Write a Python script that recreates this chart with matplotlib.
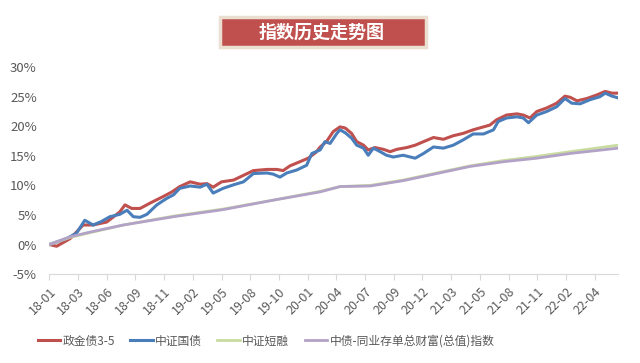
import matplotlib
matplotlib.use("Agg")
import matplotlib.pyplot as plt
from matplotlib.patches import Rectangle

plt.rcParams['font.family'] = ['Noto Sans CJK SC', 'DejaVu Sans']

# trading-day index since 2018-01 and cumulative return (%)
labels = ['18-01', '18-03', '18-06', '18-09', '18-11', '19-02', '19-05', '19-08', '19-10', '20-01',
          '20-04', '20-07', '20-09', '20-12', '21-03', '21-05', '21-08', '21-11', '22-02', '22-04']
label_step = 55

red_x = [0, 14, 40, 65, 84, 110, 135, 145, 158, 174, 193, 218, 235, 250, 270, 289, 302, 314, 330, 353,
         372, 391, 417, 436, 448, 461, 480, 496, 511, 519, 531, 544, 557, 567, 579, 589, 602, 611, 624,
         640, 653, 666, 685, 701, 717, 736, 755, 774, 793, 812, 832, 844, 857, 876, 896, 908, 921, 934,
         953, 972, 988, 998, 1011, 1030, 1049, 1065, 1078, 1090]
red_y = [0.0, -0.3, 1.0, 3.3, 3.3, 3.8, 5.5, 6.7, 6.1, 6.1, 7.0, 8.1, 8.9, 9.8, 10.6, 10.2, 10.3, 9.7, 10.6, 10.9,
         11.7, 12.5, 12.7, 12.7, 12.5, 13.3, 14.0, 14.6, 15.6, 16.5, 17.4, 19.1, 19.9, 19.7, 18.8, 17.4, 16.8, 16.0, 16.4,
         16.1, 15.7, 16.1, 16.4, 16.8, 17.4, 18.1, 17.8, 18.4, 18.8, 19.4, 19.9, 20.2, 21.1, 21.9, 22.1, 21.9, 21.4, 22.5,
         23.1, 23.9, 25.1, 24.9, 24.3, 24.7, 25.3, 25.9, 25.6, 25.6]

blue_x = [0, 33, 52, 68, 84, 100, 116, 135, 149, 161, 174, 187, 206, 225, 238, 250, 270, 289, 302, 314,
          333, 353, 372, 391, 417, 429, 442, 455, 474, 493, 503, 519, 528, 538, 551, 557, 567, 579, 589,
          602, 611, 621, 634, 646, 659, 678, 701, 717, 736, 755, 774, 793, 812, 832, 851, 860, 876, 896,
          908, 918, 934, 953, 972, 988, 1001, 1017, 1036, 1055, 1065, 1078, 1090]
blue_y = [0.0, 1.0, 1.9, 4.1, 3.3, 3.9, 4.7, 5.1, 5.8, 4.7, 4.6, 5.1, 6.7, 7.8, 8.4, 9.5, 9.9, 9.7, 10.2, 8.7,
          9.5, 10.1, 10.6, 12.0, 12.1, 11.9, 11.4, 12.1, 12.6, 13.4, 15.4, 16.0, 17.4, 17.1, 18.8, 19.4, 18.9, 18.0, 16.8,
          16.3, 15.1, 16.3, 15.7, 15.1, 14.8, 15.1, 14.6, 15.4, 16.5, 16.3, 16.8, 17.7, 18.7, 18.7, 19.4, 20.8, 21.4, 21.6,
          21.4, 20.6, 21.9, 22.5, 23.3, 24.7, 23.9, 23.8, 24.5, 25.0, 25.6, 25.1, 24.8]

green_x = [0, 40, 78, 142, 238, 333, 429, 519, 557, 615, 678, 742, 806, 870, 934, 998, 1090]
green_y = [0.0, 1.2, 2.0, 3.3, 4.8, 6.0, 7.5, 9.0, 9.8, 10.0, 10.9, 12.1, 13.3, 14.2, 14.9, 15.7, 16.8]

purple_x = [0, 40, 78, 142, 238, 333, 429, 519, 557, 615, 678, 742, 806, 870, 934, 998, 1090]
purple_y = [0.0, 1.3, 2.1, 3.3, 4.7, 5.9, 7.5, 8.9, 9.8, 9.9, 10.8, 12.0, 13.2, 14.0, 14.6, 15.4, 16.3]

names = ['政金债3-5', '中证国债', '中证短融', '中债-同业存单总财富(总值)指数']
colors = ['#C0504D', '#4A7EBB', '#C9DC9F', '#B3A2C7']

fig = plt.figure(figsize=(6.4, 3.63), dpi=100)
ax = fig.add_axes([0.077, 0.245, 0.889, 0.570])

ax.plot(red_x, red_y, color=colors[0], lw=2.2, label=names[0])
ax.plot(blue_x, blue_y, color=colors[1], lw=2.2, label=names[1])
ax.plot(green_x, green_y, color=colors[2], lw=2.0, label=names[2])
ax.plot(purple_x, purple_y, color=colors[3], lw=2.0, label=names[3])

ax.set_xlim(0, 1090)
ax.set_ylim(-5, 30)
ax.set_yticks(range(-5, 31, 5))
ax.set_yticklabels([f'{v}%' for v in range(-5, 31, 5)])
ax.set_xticks([i * label_step for i in range(len(labels))])
ax.set_xticklabels(labels, rotation=45, ha='right', va='top', rotation_mode='anchor')

for s in ['top', 'right', 'left']:
    ax.spines[s].set_visible(False)
ax.spines['bottom'].set_color('#D9D9D9')
ax.tick_params(axis='y', length=0, pad=9, labelsize=9.5, labelcolor='#595959')
ax.tick_params(axis='x', length=4, color='#D9D9D9', pad=4, labelsize=9, labelcolor='#595959')

# title box
fig.patches.append(Rectangle((220 / 640, 1 - 47 / 363), 206 / 640, 30 / 363, transform=fig.transFigure,
                             facecolor='#C0504D', edgecolor='#EADFD0', lw=2.5))
fig.text(322 / 640, 1 - 32 / 363, '指数历史走势图', color='white', fontsize=13, fontweight='bold',
         ha='center', va='center')

fig.legend(loc='center', bbox_to_anchor=(266 / 640, 1 - 341 / 363), ncol=4, frameon=False,
           fontsize=8.5, handlelength=1.9, handletextpad=0.2, columnspacing=1.3, labelcolor='#595959')

fig.savefig('out.png', dpi=100)
